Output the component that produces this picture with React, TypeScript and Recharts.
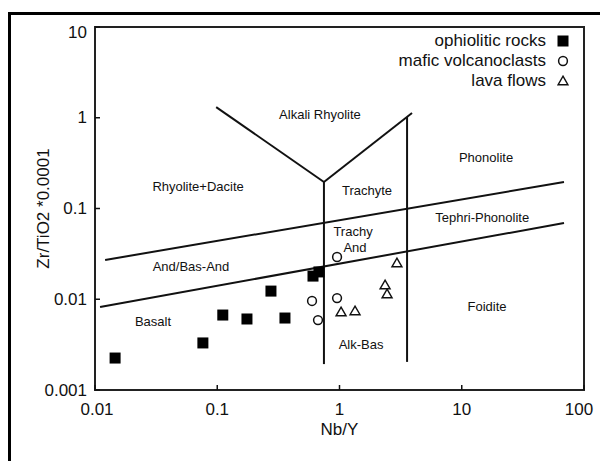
import { ScatterChart, Scatter, XAxis, YAxis, ReferenceLine, ReferenceArea, ReferenceDot, Legend } from "recharts";

const FONT = "'Liberation Sans', Arial, sans-serif";
const INK = "#111";

const xTicks = [0.01, 0.1, 1, 10, 100];
const yTicks = [0.001, 0.01, 0.1, 1, 10];

const seriesNames = ["ophiolitic rocks", "mafic volcanoclasts", "lava flows"];

// ophiolitic rocks
const ophNbY = [0.0146, 0.0763, 0.111, 0.175, 0.275, 0.358, 0.607, 0.679];
const ophZrTi = [0.00225, 0.0033, 0.0067, 0.00606, 0.0123, 0.00621, 0.018, 0.02];
// mafic volcanoclasts
const mafNbY = [0.955, 0.596, 0.955, 0.667];
const mafZrTi = [0.0292, 0.00957, 0.0103, 0.0059];
// lava flows
const lavaNbY = [2.95, 2.36, 2.45, 1.03, 1.34];
const lavaZrTi = [0.0251, 0.01436, 0.01143, 0.00724, 0.00743];

// field boundaries: [x1, y1, x2, y2]
const boundaries = [
  [0.0121, 0.0271, 68.6, 0.196],
  [0.011, 0.00822, 68.6, 0.0692],
  [0.098, 1.31, 0.746, 0.196],
  [0.746, 0.196, 3.92, 1.13],
  [0.746, 0.196, 0.746, 0.00193],
  [3.57, 1.02, 3.57, 0.00204],
];

// field names
const fieldNames = ["Alkali Rhyolite", "Rhyolite+Dacite", "Trachyte", "Phonolite", "Tephri-Phonolite", "Trachy", "And", "And/Bas-And", "Basalt", "Foidite", "Alk-Bas"];
const fieldNbY = [0.692, 0.0697, 1.68, 15.8, 14.7, 1.29, 1.34, 0.061, 0.0298, 16.1, 1.5];
const fieldZrTi = [1.1, 0.177, 0.16, 0.369, 0.0805, 0.0565, 0.0377, 0.0232, 0.00575, 0.00844, 0.00321];

const toPts = (xs: number[], ys: number[]) => xs.map((x, i) => ({ x, y: ys[i] }));

const Square = (p: any) => <rect x={p.cx - 5.5} y={p.cy - 5.5} width={11} height={11} fill="#000" />;
const Ring = (p: any) => <circle cx={p.cx} cy={p.cy} r={4.4} fill="#fff" stroke={INK} strokeWidth={1.5} />;
const Tri = (p: any) => (
  <path d={`M${p.cx},${p.cy - 4.8}L${p.cx + 5},${p.cy + 3.8}L${p.cx - 5},${p.cy + 3.8}Z`} fill="#fff" stroke={INK} strokeWidth={1.4} />
);
const markers: Record<string, any> = { "ophiolitic rocks": Square, "mafic volcanoclasts": Ring, "lava flows": Tri };

const XTick = (p: any) => {
  const v = p.payload.value;
  const dx = v === 100 ? -5 : v === 0.01 ? 2 : 0;
  return (
    <g>
      <line x1={p.x} y1={p.y} x2={p.x} y2={p.y - 5} stroke={INK} strokeWidth={1.5} />
      <text x={p.x + dx} y={p.y + 19} textAnchor="middle" dominantBaseline="central" fontSize={17} fill={INK} fontFamily={FONT}>{String(v)}</text>
    </g>
  );
};

const YTick = (p: any) => {
  const v = p.payload.value;
  const dy = v === 10 ? 5 : 0;
  return (
    <g>
      <line x1={p.x} y1={p.y} x2={p.x + 5} y2={p.y} stroke={INK} strokeWidth={1.5} />
      <text x={p.x - 8} y={p.y + dy} textAnchor="end" dominantBaseline="central" fontSize={17} fill={INK} fontFamily={FONT}>{String(v)}</text>
    </g>
  );
};

const LegendBox = () => (
  <div style={{ fontFamily: FONT, fontSize: 17, color: INK }}>
    {seriesNames.map((n) => {
      const M = markers[n];
      return (
        <div key={n} style={{ display: "flex", justifyContent: "flex-end", alignItems: "center", height: 20 }}>
          <span>{n}</span>
          <svg width={12} height={12} style={{ marginLeft: 11 }}>
            <M cx={6} cy={6} />
          </svg>
        </div>
      );
    })}
  </div>
);

export default function App() {
  return (
    <div style={{ position: "absolute", left: 0, top: 0, width: 600, height: 461, overflow: "hidden", background: "#fff" }}>
      <div style={{ position: "absolute", left: 8, top: 12, width: 620, height: 480, borderLeft: "3px solid #000", borderTop: "3px solid #000" }} />
      <ScatterChart width={600} height={461} margin={{ top: 27, right: 16, bottom: 0, left: 0 }}>
        <XAxis
          dataKey="x"
          type="number"
          scale="log"
          domain={[0.01, 100]}
          ticks={xTicks}
          allowDataOverflow
          height={71}
          axisLine={false}
          tickLine={false}
          tickSize={0}
          tickMargin={0}
          tick={XTick}
          label={(p: any) => {
            const vb = p.viewBox;
            return (
              <text x={vb.x + vb.width / 2} y={vb.y + 39} textAnchor="middle" dominantBaseline="central" fontSize={17} fill={INK} fontFamily={FONT}>
                Nb/Y
              </text>
            );
          }}
        />
        <YAxis
          dataKey="y"
          type="number"
          scale="log"
          domain={[0.001, 10]}
          ticks={yTicks}
          allowDataOverflow
          width={95}
          axisLine={false}
          tickLine={false}
          tickSize={0}
          tickMargin={0}
          tick={YTick}
          label={(p: any) => {
            const vb = p.viewBox;
            const cx = vb.x + 43;
            const cy = vb.y + vb.height / 2;
            return (
              <text x={cx} y={cy} transform={`rotate(-90 ${cx} ${cy})`} textAnchor="middle" dominantBaseline="central" fontSize={17} fill={INK} fontFamily={FONT}>
                Zr/TiO2 *0.0001
              </text>
            );
          }}
        />
        <ReferenceArea x1={0.01} x2={100} y1={0.001} y2={10} fill="none" stroke="#222" strokeWidth={2} ifOverflow="visible" />
        {boundaries.map((b, i) => (
          <ReferenceLine
            key={i}
            segment={[{ x: b[0], y: b[1] }, { x: b[2], y: b[3] }]}
            stroke={INK}
            strokeWidth={2}
            ifOverflow="visible"
          />
        ))}
        {fieldNames.map((n, i) => (
          <ReferenceDot
            key={n}
            x={fieldNbY[i]}
            y={fieldZrTi[i]}
            r={0}
            fill="none"
            stroke="none"
            ifOverflow="visible"
            label={{ value: n, position: "center", fontSize: 13, fill: INK, fontFamily: FONT }}
          />
        ))}
        <Scatter name={seriesNames[0]} data={toPts(ophNbY, ophZrTi)} shape={Square} isAnimationActive={false} />
        <Scatter name={seriesNames[1]} data={toPts(mafNbY, mafZrTi)} shape={Ring} isAnimationActive={false} />
        <Scatter name={seriesNames[2]} data={toPts(lavaNbY, lavaZrTi)} shape={Tri} isAnimationActive={false} />
        <Legend
          layout="horizontal"
          verticalAlign="middle"
          align="center"
          content={LegendBox}
          wrapperStyle={{ top: 31, right: 31, left: "auto", width: "auto" }}
        />
      </ScatterChart>
    </div>
  );
}
